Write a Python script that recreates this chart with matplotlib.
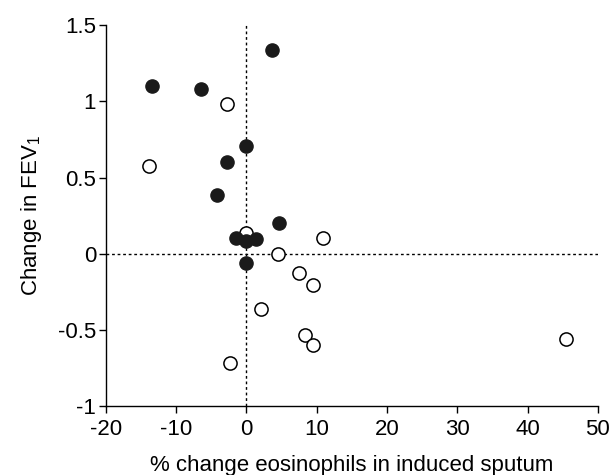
import numpy as np
import matplotlib
matplotlib.use('Agg')
import matplotlib.pyplot as plt

plt.rcParams['font.family'] = ['Liberation Sans', 'DejaVu Sans']
plt.rcParams['mathtext.fontset'] = 'custom'
plt.rcParams['mathtext.rm'] = 'Liberation Sans'
plt.rcParams['mathtext.it'] = 'Liberation Sans'
plt.rcParams['axes.unicode_minus'] = False

# filled circles
filled_x = [3.6, -13.5, -6.4, 0.0, -2.8, -4.2, 4.6, -1.5, 1.3, 0.0, 0.0]
filled_y = [1.34, 1.10, 1.08, 0.705, 0.605, 0.384, 0.204, 0.106, 0.10, 0.082, -0.064]

# open circles
open_x = [-2.7, -13.9, 0.0, 10.9, 4.5, 7.5, 9.4, 2.1, 8.3, 9.4, -2.4, 45.4]
open_y = [0.98, 0.574, 0.136, 0.106, 0.0, -0.128, -0.202, -0.362, -0.534, -0.60, -0.72, -0.56]

xticks = [-20, -10, 0, 10, 20, 30, 40, 50]
yticks = [-1, -0.5, 0, 0.5, 1, 1.5]
ytick_labels = ['-1', '-0.5', '0', '0.5', '1', '1.5']

fig = plt.figure(figsize=(6.12, 4.75), dpi=100)
ax = fig.add_axes([0.173, 0.145, 0.804, 0.802])

ax.axvline(0, color='black', linestyle=(0, (2, 2)), linewidth=1, zorder=1)
ax.axhline(0, color='black', linestyle=(0, (2, 2)), linewidth=1, zorder=1)

ax.scatter(open_x, open_y, s=90, facecolors='white', edgecolors='black', linewidths=1.1, zorder=3)
ax.scatter(filled_x, filled_y, s=90, facecolors='#1a1a1a', edgecolors='#1a1a1a', linewidths=1, zorder=4)

ax.set_xlim(-20, 50)
ax.set_ylim(-1, 1.5)
ax.set_xticks(xticks)
ax.set_yticks(yticks)
ax.set_yticklabels(ytick_labels)
ax.tick_params(labelsize=16, direction='out', length=5, width=1, colors='black', pad=2)
ax.tick_params(axis='x', pad=4)

for s in ['top', 'right']:
    ax.spines[s].set_visible(False)
for s in ['left', 'bottom']:
    ax.spines[s].set_linewidth(1)

ax.set_xlabel('% change eosinophils in induced sputum', fontsize=16, labelpad=11)
ax.set_ylabel('Change in FEV$_1$', fontsize=16, labelpad=10)

plt.savefig('out.png', dpi=100)
